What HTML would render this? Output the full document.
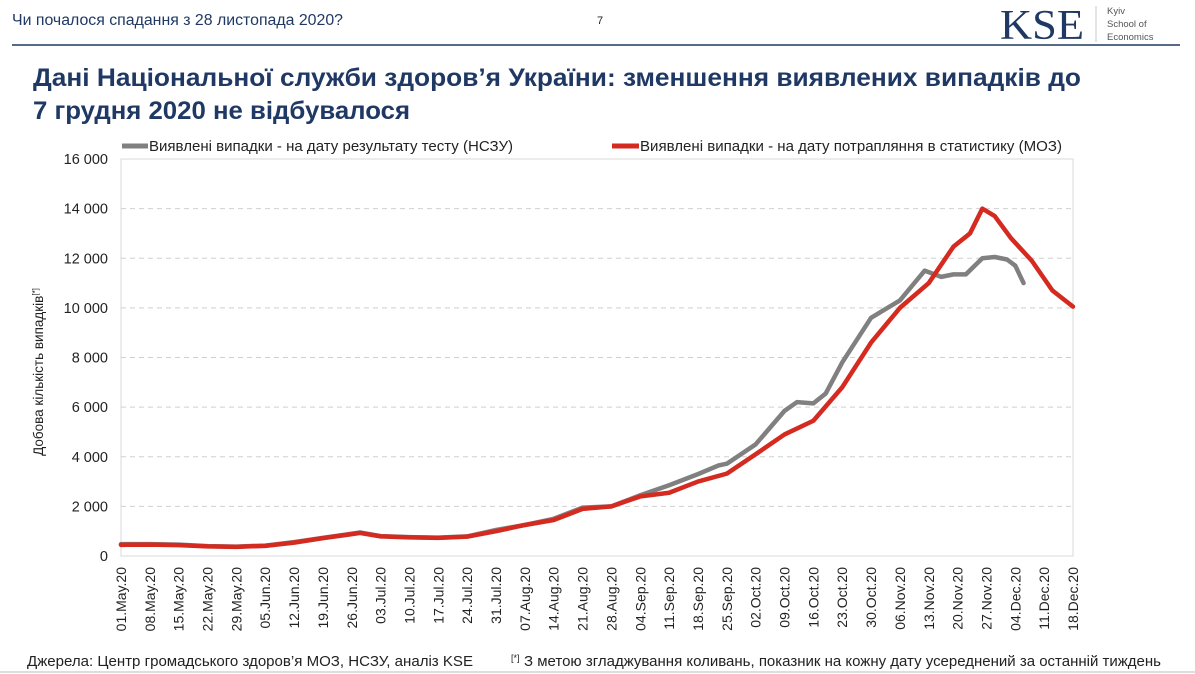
<!DOCTYPE html>
<html><head><meta charset="utf-8"><style>
body{margin:0;background:#fff;}
svg{display:block;font-family:"Liberation Sans",sans-serif;}
</style></head><body>
<svg id="page" width="1195" height="674" viewBox="0 0 1195 674" xmlns="http://www.w3.org/2000/svg">
<text x="12" y="25" font-size="15.5" fill="#1f3864" textLength="331" lengthAdjust="spacingAndGlyphs">Чи почалося спадання з 28 листопада 2020?</text>
<text x="597" y="24" font-size="11" fill="#222">7</text>
<line x1="12" y1="45" x2="1180" y2="45" stroke="#1f3864" stroke-width="1.5"/>
<g>
<text x="1000" y="39" font-family="Liberation Serif,serif" font-size="42" fill="#1f3864" textLength="84" lengthAdjust="spacingAndGlyphs">KSE</text>
<line x1="1096" y1="6" x2="1096" y2="42" stroke="#bbb" stroke-width="0.8"/>
<text x="1107" y="14" font-size="9.5" fill="#555">Kyiv</text>
<text x="1107" y="27" font-size="9.5" fill="#555">School of</text>
<text x="1107" y="40" font-size="9.5" fill="#555">Economics</text>
</g>
<text x="33" y="86" font-size="25" font-weight="bold" fill="#1f3864" textLength="1048" lengthAdjust="spacingAndGlyphs">Дані Національної служби здоров’я України: зменшення виявлених випадків до</text>
<text x="33" y="119" font-size="25" font-weight="bold" fill="#1f3864" textLength="377" lengthAdjust="spacingAndGlyphs">7 грудня 2020 не відбувалося</text>
<g>
<line x1="122" y1="146" x2="148" y2="146" stroke="#808080" stroke-width="5"/>
<text x="149" y="151" font-size="15" fill="#222" textLength="364" lengthAdjust="spacingAndGlyphs">Виявлені випадки - на дату результату тесту (НСЗУ)</text>
<line x1="612" y1="146" x2="639" y2="146" stroke="#d42a20" stroke-width="5"/>
<text x="640" y="151" font-size="15" fill="#222" textLength="422" lengthAdjust="spacingAndGlyphs">Виявлені випадки - на дату потрапляння в статистику (МОЗ)</text>
</g>
<text transform="translate(43,372) rotate(-90)" text-anchor="middle" font-size="13.5" fill="#222">Добова кількість випадків<tspan font-size="8" dy="-5">[*]</tspan></text>
<g id="chart"></g>
<text x="27" y="666" font-size="15" fill="#222" textLength="446" lengthAdjust="spacingAndGlyphs">Джерела: Центр громадського здоров’я МОЗ, НСЗУ, аналіз KSE</text>
<text x="511" y="661" font-size="9" fill="#222">[*]</text>
<text x="524" y="666" font-size="15" fill="#222" textLength="637" lengthAdjust="spacingAndGlyphs">З метою згладжування коливань, показник на кожну дату усереднений за останній тиждень</text>
<line x1="0" y1="672" x2="1195" y2="672" stroke="#bbb" stroke-width="1"/>
</svg>
<script>
const yTicks = [0,2000,4000,6000,8000,10000,12000,14000,16000];
const xTickLabels = ["01.May.20","08.May.20","15.May.20","22.May.20","29.May.20","05.Jun.20","12.Jun.20","19.Jun.20","26.Jun.20","03.Jul.20","10.Jul.20","17.Jul.20","24.Jul.20","31.Jul.20","07.Aug.20","14.Aug.20","21.Aug.20","28.Aug.20","04.Sep.20","11.Sep.20","18.Sep.20","25.Sep.20","02.Oct.20","09.Oct.20","16.Oct.20","23.Oct.20","30.Oct.20","06.Nov.20","13.Nov.20","20.Nov.20","27.Nov.20","04.Dec.20","11.Dec.20","18.Dec.20"];
const grayDays = [0,7,14,21,28,35,42,49,56,58,63,70,77,84,91,98,105,112,119,126,133,140,145,147,154,161,164,168,171,175,182,189,195,199,202,205,209,212,215,217,219];
const grayVals = [480,480,460,400,380,420,560,730,900,950,800,760,740,790,1050,1250,1500,1950,2000,2450,2850,3300,3650,3720,4500,5850,6200,6150,6550,7800,9600,10300,11500,11250,11350,11350,12000,12050,11950,11700,11000];
const redDays = [0,7,14,21,28,35,42,49,56,58,63,70,77,84,91,98,105,112,119,126,133,140,147,154,161,168,175,182,189,196,202,206,209,212,216,221,226,231];
const redVals = [450,460,440,390,370,410,540,720,880,930,790,750,730,780,1000,1250,1450,1900,2000,2400,2550,3000,3320,4100,4900,5450,6800,8600,10000,11000,12470,13000,14000,13700,12800,11900,10700,10050];
const X0=121, X1=1073, Y0=556, Y1=159, D=231, YMAX=16000;
const xs = d => X0 + (X1-X0)*d/D;
const ys = v => Y0 - (Y0-Y1)*v/YMAX;
const NS="http://www.w3.org/2000/svg";
const g=document.getElementById('chart');
function mk(t,a){const e=document.createElementNS(NS,t);for(const k in a)e.setAttribute(k,a[k]);g.appendChild(e);return e;}
const frame=mk('rect',{x:X0,y:Y1,width:X1-X0,height:Y0-Y1,fill:'none',stroke:'#d9d9d9','stroke-width':1});


yTicks.forEach(v=>{
  if(v>0&&v<YMAX){const l=mk('line',{x1:X0,x2:X1,y1:ys(v),y2:ys(v),stroke:'#d0d0d0','stroke-dasharray':'5,4'});
  
  }
  const t=mk('text',{x:108,y:ys(v)+5,'text-anchor':'end','font-size':14.5,fill:'#222'});
  
  
  t.textContent=v.toLocaleString('en').replace(/,/g,' ');
});
xTickLabels.forEach((s,i)=>{
  const x=xs(i*7);
  const t=mk('text',{transform:`translate(${x+5},567) rotate(-90)`,'text-anchor':'end','font-size':14,fill:'#222'});
  
  
  t.textContent=s;
});
function line(days,vals,color,name){
  const p=mk('polyline',{points:days.map((d,i)=>xs(d)+','+ys(vals[i])).join(' '),fill:'none',stroke:color,'stroke-width':4.5,'stroke-linejoin':'round','stroke-linecap':'round'});
  
  
}
line(grayDays,grayVals,'#808080','series-nszu');
line(redDays,redVals,'#d42a20','series-moz');
</script>
</body></html>
